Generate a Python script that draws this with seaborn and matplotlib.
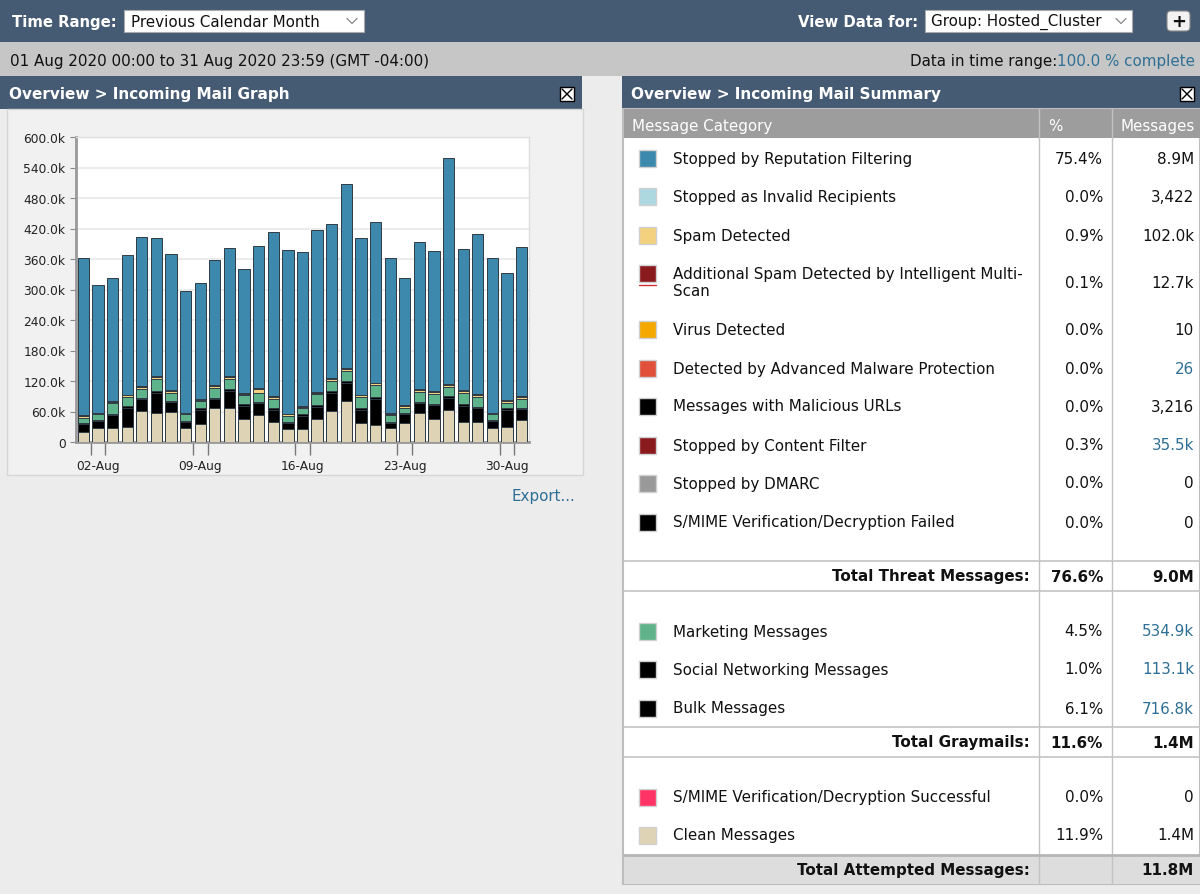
import numpy as np
import pandas as pd
import seaborn as sns
import matplotlib.pyplot as plt
from matplotlib.patches import Rectangle, FancyBboxPatch
from matplotlib.ticker import FuncFormatter

sns.set_style('white')
plt.rcParams['font.family'] = ['DejaVu Sans']

# daily incoming mail, in thousands of messages
days = list(range(1, 32))
clean = [20, 28, 28, 30, 61, 58, 59, 28, 36, 66, 66, 45, 52.5, 39, 26, 26,
         46, 61, 81, 38, 33.5, 27, 38, 58, 45, 62, 39, 39, 27, 30, 43]
bulk = [16, 13, 25, 37, 23, 38, 20, 11, 27, 19, 35, 26, 23.5, 24, 11, 25.5,
        23, 35.5, 35, 25, 50.5, 11, 16.5, 19, 27.5, 25.5, 32.5, 27, 14, 32, 21]
social = [2, 2, 3, 4, 3, 4, 2, 2, 3, 2, 4, 3, 3, 3, 2, 3,
          3, 4, 4, 3, 5, 2, 2, 2, 3, 3, 4, 3, 2, 4, 2]
marketing = [10, 11.5, 20, 18, 18, 23.5, 16, 13.5, 14, 20, 18.5, 18, 18, 19, 12, 11.5,
             22, 19.5, 20, 23, 23, 12.5, 11, 19.5, 18.5, 17.5, 21.5, 20, 11.5, 11.5, 19]
spam = [3.0, 2.3, 2.7, 2.7, 3.4, 3.7, 3.4, 2.4, 2.7, 3.4, 3.7, 3.4, 8.0, 4.1, 3.4, 3.4,
        3.1, 3.4, 4.4, 2.7, 3.4, 2.7, 3.1, 3.7, 4.1, 3.7, 3.4, 3.4, 2.4, 3.7, 4.1]
content_filter = [1.5, 1.2, 1.3, 1.3, 1.6, 1.8, 1.6, 1.1, 1.3, 1.6, 1.8, 1.6, 2.0, 1.9, 1.6, 1.6,
                  1.4, 1.6, 2.1, 1.3, 1.6, 1.3, 1.4, 1.8, 2.4, 1.8, 1.6, 1.6, 1.1, 1.8, 1.9]
reputation = [309.5, 251, 243, 275, 293, 272, 268, 240, 229, 246, 252, 244, 278, 323, 321, 303,
              318.5, 303, 361.5, 308, 315, 305.5, 250, 289, 275.5, 445.5, 277, 315, 303, 249, 293]

# summary table
categories = ['Stopped by Reputation Filtering', 'Stopped as Invalid Recipients', 'Spam Detected',
              'Additional Spam Detected by Intelligent Multi-\nScan', 'Virus Detected',
              'Detected by Advanced Malware Protection', 'Messages with Malicious URLs',
              'Stopped by Content Filter', 'Stopped by DMARC', 'S/MIME Verification/Decryption Failed',
              'Marketing Messages', 'Social Networking Messages', 'Bulk Messages',
              'S/MIME Verification/Decryption Successful', 'Clean Messages']
cat_colors = ['#3d88ad', '#add8e2', '#f3d27f', '#8b1a1f', '#f5a800', '#e0503a', '#000000',
              '#8b1a1f', '#999999', '#000000', '#5eb38a', '#000000', '#000000', '#ff3366', '#dfd3b5']
cat_pct = ['75.4%', '0.0%', '0.9%', '0.1%', '0.0%', '0.0%', '0.0%', '0.3%', '0.0%', '0.0%',
           '4.5%', '1.0%', '6.1%', '0.0%', '11.9%']
cat_count = ['8.9M', '3,422', '102.0k', '12.7k', '10', '26', '3,216', '35.5k', '0', '0',
             '534.9k', '113.1k', '716.8k', '0', '1.4M']
cat_link = [False, False, False, False, False, True, False, True, False, False,
            True, True, True, False, False]
totals = [('Total Threat Messages:', '76.6%', '9.0M'),
          ('Total Graymails:', '11.6%', '1.4M'),
          ('Total Attempted Messages:', '', '11.8M')]

HEAD = '#455a73'
LINK = '#2e6f95'
FS = 10.9

fig = plt.figure(figsize=(12, 8.95), dpi=100, facecolor='#ececec')
bg = fig.add_axes([0, 0, 1, 1])
bg.set_xlim(0, 1200)
bg.set_ylim(895, 0)
bg.axis('off')


def box(x, y, w, h, fc, ec='none', lw=0):
    bg.add_patch(Rectangle((x, y), w, h, facecolor=fc, edgecolor=ec, linewidth=lw))


def txt(x, y, s, **kw):
    kw.setdefault('fontsize', FS)
    kw.setdefault('color', '#111111')
    bg.text(x, y, s, va='center', **kw)


def close_icon(x, y):
    box(x, y, 14, 14, 'white', ec='black', lw=1)
    bg.plot([x + 2, x + 12], [y + 2, y + 12], color='black', lw=1)
    bg.plot([x + 2, x + 12], [y + 12, y + 2], color='black', lw=1)


def chevron(x, y):
    bg.plot([x - 5, x, x + 5], [y - 2.5, y + 2.5, y - 2.5], color='#888888', lw=0.9)


# top bars
box(0, 0, 1200, 43, HEAD)
box(0, 43, 1200, 34, '#c6c6c6')
txt(12, 22, 'Time Range:', color='white', fontweight='bold', fontsize=10.7)
box(124, 11, 240, 22, 'white', ec='#aaaaaa', lw=0.8)
txt(131, 22, 'Previous Calendar Month')
chevron(352, 22)
txt(918, 22, 'View Data for:', color='white', fontweight='bold', fontsize=10.7, ha='right')
box(925, 11, 207, 22, 'white', ec='#aaaaaa', lw=0.8)
txt(931, 22, 'Group: Hosted_Cluster')
chevron(1121, 22)
bg.add_patch(FancyBboxPatch((1167, 12), 23, 20, boxstyle='round,pad=0,rounding_size=4',
                            facecolor='#f2f2f2', edgecolor='#888888', linewidth=0.8))
txt(1178.5, 22, '+', ha='center', fontweight='bold', fontsize=13)
txt(10, 61, '01 Aug 2020 00:00 to 31 Aug 2020 23:59 (GMT -04:00)')
txt(1195, 61, '100.0 % complete', ha='right', color=LINK)
txt(1057, 61, 'Data in time range:', ha='right')

# panel headers
box(0, 77, 582, 33, HEAD)
box(622, 77, 578, 33, HEAD)
txt(9, 94, 'Overview > Incoming Mail Graph', color='white', fontweight='bold', fontsize=11)
txt(631, 94, 'Overview > Incoming Mail Summary', color='white', fontweight='bold', fontsize=11)
close_icon(560, 88)
close_icon(1180, 88)

# chart panel
box(7, 110, 576, 366, '#f1f1f1', ec='#d6d6d6', lw=1)
txt(575, 496, 'Export...', ha='right', color=LINK)

# summary table frame
box(623, 110, 577, 775, 'white', ec='#bdbdbd', lw=1.5)
box(624, 110, 576, 29, '#9d9d9d')
box(624, 856, 576, 29, '#dddddd')
for xl in (1039, 1112):
    bg.plot([xl, xl], [110, 885], color='#c3c3c3', lw=1)
for yl in (562, 592, 728, 758):
    bg.plot([624, 1200], [yl, yl], color='#c3c3c3', lw=1.2)
bg.plot([624, 1200], [855.5, 855.5], color='#b5b5b5', lw=2)
txt(632, 126, 'Message Category', color='white')
txt(1048, 126, '%', color='white')
txt(1121, 126, 'Messages', color='white')

row_y = [159, 197, 236, 283, 330, 369, 407, 446, 484, 523, 632, 670, 709, 798, 836]
for i, (name, col, pct, cnt, link) in enumerate(zip(categories, cat_colors, cat_pct, cat_count, cat_link)):
    y = row_y[i]
    sy = y - 8 if '\n' not in name else y - 17
    box(639, sy, 17, 17, col, ec='#d0d0d0', lw=1)
    if '\n' in name:
        bg.plot([639, 656], [sy + 19.5, sy + 19.5], color='#d03030', lw=1)
    txt(673, y, name, linespacing=1.2)
    txt(1103, y, pct, ha='right')
    txt(1194, y, cnt, ha='right', color=LINK if link else '#111111')

for (label, pct, cnt), y in zip(totals, (577, 743, 871)):
    txt(1030, y, label, ha='right', fontweight='bold')
    txt(1103, y, pct, ha='right', fontweight='bold')
    txt(1194, y, cnt, ha='right', fontweight='bold')

# stacked bar chart
ax = fig.add_axes([76 / 1200, 1 - 443 / 895, 453 / 1200, 305 / 895])
ax.set_facecolor('white')

layers = [('Clean Messages', clean, '#dfd3b5'),
          ('Bulk Messages', bulk, '#000000'),
          ('Social Networking Messages', social, '#000000'),
          ('Marketing Messages', marketing, '#5eb38a'),
          ('Spam Detected', spam, '#f3d27f'),
          ('Stopped by Content Filter', content_filter, '#8b1a1f'),
          ('Stopped by Reputation Filtering', reputation, '#3d88ad')]

df = pd.DataFrame({name: vals for name, vals, _ in layers})
cum = df.cumsum(axis=1) * 1000
cum['day'] = days

# draw cumulative totals from the top layer down so each layer covers the one above
for name, _, color in reversed(layers):
    sns.barplot(data=cum, x='day', y=name, color=color, saturation=1, width=0.77,
                edgecolor='#2f3b45', linewidth=0.7, ax=ax, zorder=3)

ax.set_xlabel('')
ax.set_ylabel('')
ax.set_xlim(-0.5, len(days) - 0.5)
ax.set_ylim(0, 600000)
ax.set_yticks(np.arange(0, 600001, 60000))
ax.yaxis.set_major_formatter(FuncFormatter(lambda v, p: '0' if v == 0 else f'{v / 1000:.1f}k'))
ax.yaxis.grid(True, color='#ececec', lw=1.5, zorder=0)
ax.set_axisbelow(True)

label_days = [2, 9, 16, 23, 30]
label_idx = [days.index(d) for d in label_days]
ax.set_xticks(label_idx, [f'{d:02d}-Aug' for d in label_days])
ax.set_xticks(np.arange(len(days) + 1) - 0.5, minor=True)
ax.tick_params(axis='x', which='major', length=0, pad=12, labelsize=8.8, labelcolor='#222222')
ax.tick_params(axis='x', which='minor', length=4, color='#777777', width=1)
ax.tick_params(axis='y', length=4, color='#888888', labelsize=8.8, labelcolor='#222222', left=True)
long_ticks = [i + s for i in label_idx for s in (-0.5, 0.5)]
sec = ax.secondary_xaxis('bottom')
sec.set_xticks(long_ticks, [''] * len(long_ticks))
sec.tick_params(length=9, color='#777777', width=1)
sec.spines['bottom'].set_visible(False)

for side in ('left', 'bottom'):
    ax.spines[side].set_color('#999999')
    ax.spines[side].set_linewidth(2)
for side in ('top', 'right'):
    ax.spines[side].set_color('#dddddd')
    ax.spines[side].set_linewidth(1)

fig.savefig('out.png', dpi=100, facecolor=fig.get_facecolor())
